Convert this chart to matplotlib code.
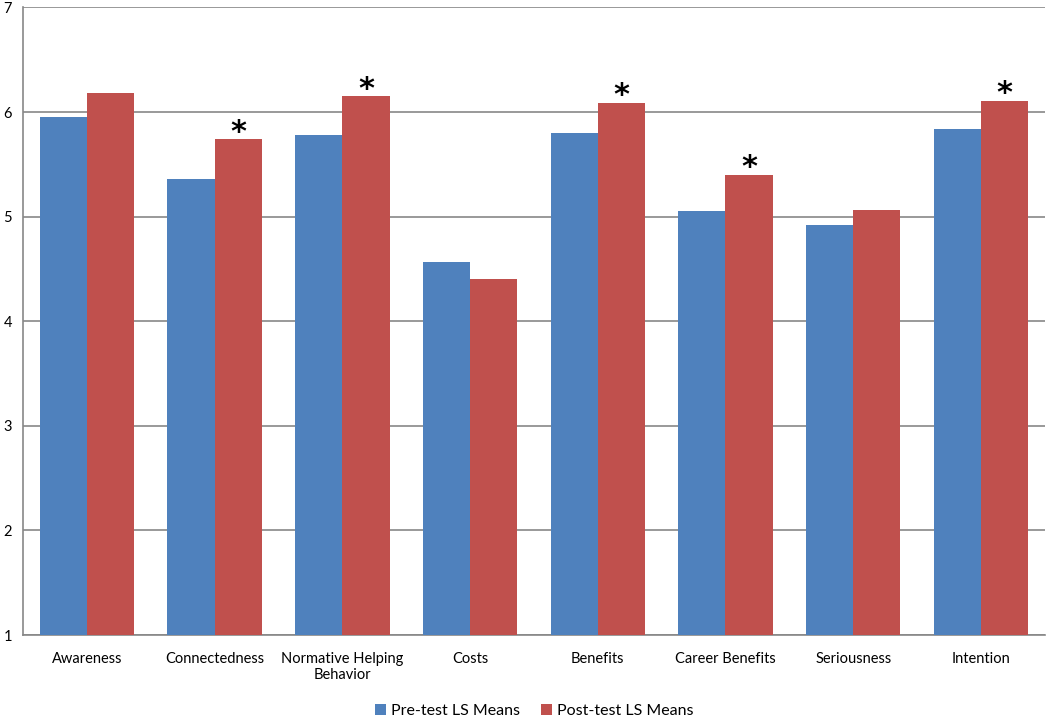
import matplotlib.pyplot as plt
import numpy as np

categories = ['Awareness', 'Connectedness', 'Normative Helping\nBehavior', 'Costs',
              'Benefits', 'Career Benefits', 'Seriousness', 'Intention']
pre_test = [5.95, 5.36, 5.78, 4.57, 5.80, 5.05, 4.92, 5.84]
post_test = [6.18, 5.74, 6.15, 4.40, 6.09, 5.40, 5.06, 6.11]
significant = [False, True, True, False, True, True, False, True]

plt.rcParams['font.family'] = ['Lato', 'DejaVu Sans']

fig = plt.figure(figsize=(10.5, 7.2), dpi=100)
ax = fig.add_axes([0.022, 0.118, 0.973, 0.8716])

x = np.arange(len(categories))
width = 0.37

ax.bar(x - width/2, pre_test, width, color='#4F81BD', label='Pre-test LS Means', zorder=3)
ax.bar(x + width/2, post_test, width, color='#C0504D', label='Post-test LS Means', zorder=3)

# asterisks over significant post-test bars
for xi, val, sig in zip(x, post_test, significant):
    if sig:
        ax.annotate('*', (xi + width/2, val), xytext=(0, -5.5), textcoords='offset points',
                    ha='center', va='bottom', fontsize=22, fontweight='bold',
                    family='DejaVu Sans', color='black')

ax.set_ylim(1, 7)
ax.set_xlim(-0.5, len(categories) - 0.5)
ax.set_yticks(range(1, 8))
ax.set_xticks(x)
ax.set_xticklabels(categories, fontsize=10.5)
ax.tick_params(axis='y', labelsize=10.5, length=0, pad=8)
ax.tick_params(axis='x', length=0, pad=12)
ax.yaxis.grid(True, color='#878787', linewidth=1.2, zorder=0)

for s in ['top', 'right']:
    ax.spines[s].set_visible(False)
ax.spines['left'].set_color('#878787')
ax.spines['bottom'].set_color('#878787')
ax.spines['left'].set_linewidth(1.2)
ax.spines['bottom'].set_linewidth(1.2)

ax.legend(loc='lower center', bbox_to_anchor=(0.5, -0.155), ncol=2, frameon=False,
          fontsize=11.5, handlelength=0.7, handleheight=0.7, handletextpad=0.3, columnspacing=1.3)

fig.savefig('out.png', dpi=100)
